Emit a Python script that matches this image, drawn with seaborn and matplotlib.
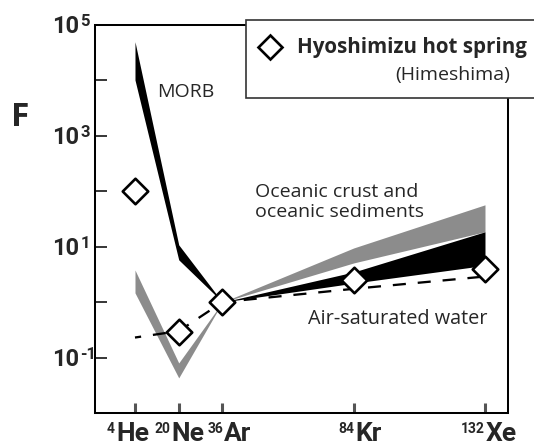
import matplotlib
matplotlib.use("Agg")
import matplotlib.pyplot as plt
import seaborn as sns
from matplotlib.patches import Rectangle
from matplotlib.lines import Line2D
from matplotlib.ticker import NullFormatter

# Noble gas isotopes and their positions along the x axis
isotopes = ["He", "Ne", "Ar", "Kr", "Xe"]
mass_numbers = ["4", "20", "36", "84", "132"]
x_pos = [0, 1, 2, 5, 8]

# Hyoshimizu hot spring (Himeshima): fractionation factor F
spring_F = [100, 0.29, 1.0, 2.5, 4.0]
# Air-saturated water
asw_F = [0.23, 0.30, 1.0, 1.74, 2.9]

# MORB field, light noble gases (He-Ne-Ar)
morb_x = [0, 1, 2]
morb_hi = [5.0e4, 10.8, 1.0]
morb_lo = [1.02e4, 5.8, 1.0]
# MORB field, heavy noble gases (Ar-Kr-Xe)
morb_heavy_x = [2, 5, 8]
morb_heavy_hi = [1.0, 3.5, 18.6]
morb_heavy_lo = [1.0, 2.2, 4.6]

# Oceanic crust and oceanic sediments field (He-Ne-Ar)
ocs_x = [0, 1, 2]
ocs_hi = [3.8, 0.080, 1.0]
ocs_lo = [1.47, 0.043, 1.0]
# Oceanic crust and oceanic sediments field (Ar-Kr-Xe)
ocs_heavy_x = [2, 5, 8]
ocs_heavy_hi = [1.0, 9.5, 57]
ocs_heavy_lo = [1.0, 5.1, 18.6]

# y axis: labelled decades and unlabelled decades
y_major = [1e-1, 1e1, 1e3, 1e5]
y_major_exp = ["-1", "1", "3", "5"]
y_minor = [1e0, 1e2, 1e4]

sns.set_style("ticks")
FONT = "Open Sans"
TICKFONT = "Roboto"
plt.rcParams["font.family"] = [FONT, "DejaVu Sans"]

GRAY = "#8c8c8c"
W, H = 534, 445
PT = 0.72  # points per pixel at 100 dpi
fig = plt.figure(figsize=(W / 100, H / 100), dpi=100)
fig.patch.set_facecolor("white")
ax = fig.add_axes([95 / W, 1 - 413 / H, (508 - 95) / W, (413 - 25) / H])


def fx(x):
    return x / W


def fy(y):
    return 1 - y / H


# shaded fields
ax.fill_between(ocs_x, ocs_lo, ocs_hi, color=GRAY, lw=0, zorder=1)
ax.fill_between(ocs_heavy_x, ocs_heavy_lo, ocs_heavy_hi, color=GRAY, lw=0, zorder=1)
ax.fill_between(morb_x, morb_lo, morb_hi, color="black", lw=0, zorder=2)
ax.fill_between(morb_heavy_x, morb_heavy_lo, morb_heavy_hi, color="black", lw=0, zorder=2)

# air-saturated water
sns.lineplot(x=x_pos, y=asw_F, ax=ax, color="black", lw=1.65,
             linestyle=(3, (5.7, 5.2)), zorder=3)

# hot spring data
sns.scatterplot(x=x_pos, y=spring_F, ax=ax, marker="D", s=169,
                facecolor="white", edgecolor="black", linewidth=1.9, zorder=5)

ax.set_yscale("log")
ax.set_ylim(1e-2, 1e5)
ax.set_xlim(-0.914, 8.526)

ax.set_yticks(y_major, labels=[""] * len(y_major))
ax.set_yticks(y_minor, minor=True)
ax.yaxis.set_minor_formatter(NullFormatter())
ax.tick_params(axis="y", which="both", direction="in", length=8.5, width=1.1,
               color="black")
ax.set_xticks(x_pos, labels=[""] * len(x_pos))
ax.tick_params(axis="x", which="both", direction="in", length=7, width=2.2,
               color="#555555")

for s in ax.spines.values():
    s.set_linewidth(1.45)
    s.set_color("black")

# y tick labels: "10" with a raised exponent
for v, e in zip(y_major, y_major_exp):
    ax.annotate("10", xy=(0, v), xycoords=("axes fraction", "data"),
                xytext=(-15.5 * PT, -8 * PT), textcoords="offset points",
                ha="right", va="baseline", fontsize=17, fontweight="bold",
                family=TICKFONT, annotation_clip=False)
    ax.annotate(e, xy=(0, v), xycoords=("axes fraction", "data"),
                xytext=(-14.5 * PT, -1.5 * PT), textcoords="offset points",
                ha="left", va="baseline", fontsize=12, fontweight="bold",
                family=TICKFONT, annotation_clip=False)

# x tick labels: mass number as a superscript before the element symbol
label_shift_px = [-19.5, -8, 1, 0.75, 0.4]
for x, m, el, sh in zip(x_pos, mass_numbers, isotopes, label_shift_px):
    ax.annotate(m, xy=(x, 0), xycoords=("data", "axes fraction"),
                xytext=((sh - 0.5) * PT, -20 * PT), textcoords="offset points",
                ha="right", va="baseline", fontsize=10, fontweight="bold",
                family=TICKFONT, annotation_clip=False)
    ax.annotate(el, xy=(x, 0), xycoords=("data", "axes fraction"),
                xytext=((sh + 0.5) * PT, -28 * PT), textcoords="offset points",
                ha="left", va="baseline", fontsize=19, fontweight="bold",
                family=TICKFONT, annotation_clip=False)

ax.set_ylabel("F", rotation=0, fontsize=24, fontweight="bold", va="center", ha="center")
ax.yaxis.set_label_coords((20 - 95) / 413, (413 - 118) / 388)

# field labels
fig.text(fx(157), fy(97), "MORB", fontsize=14, va="baseline", ha="left")
fig.text(fx(255), fy(197), "Oceanic crust and", fontsize=14, va="baseline", ha="left")
fig.text(fx(255), fy(217), "oceanic sediments", fontsize=14, va="baseline", ha="left")
fig.text(fx(308), fy(324), "Air-saturated water", fontsize=14.3, va="baseline", ha="left")

# key box in the upper right corner
box = Rectangle((fx(246), fy(98)), fx(600) - fx(246), fy(20) - fy(98),
                transform=fig.transFigure, facecolor="white", edgecolor="#333333",
                lw=1.2, zorder=10)
fig.add_artist(box)
key = Line2D([fx(270)], [fy(47)], transform=fig.transFigure, marker="D", ms=12.5,
             mfc="white", mec="black", mew=1.9, ls="none", zorder=11)
fig.add_artist(key)
fig.text(fx(297), fy(47), "Hyoshimizu hot spring", fontsize=14.8, fontweight="bold",
         va="center", ha="left", zorder=12)
fig.text(fx(395), fy(75), "(Himeshima)", fontsize=14, va="center", ha="left", zorder=12)

fig.savefig("out.png", dpi=100)
